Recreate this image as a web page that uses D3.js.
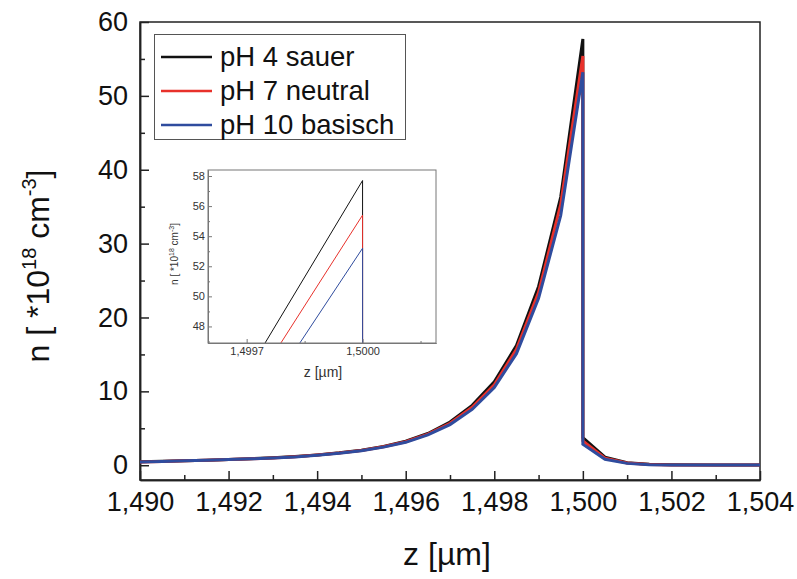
<!DOCTYPE html>
<html lang="de">
<head>
<meta charset="UTF-8">
<title>n(z)</title>
<style>
  body { margin: 0; background: #fff; }
  svg { font-family: "Liberation Sans", Arial, sans-serif; }
  .axis path, .axis line { stroke: #222; }
  .inset path, .inset line { stroke: #777; }
</style>
</head>
<body>
<div id="chart"></div>
<script src="https://cdn.jsdelivr.net/npm/d3@7/dist/d3.min.js"></script>
<script>
// z-Werte (µm), 1,5000 doppelt wegen Sprung
let zValues = [1.4900, 1.4905, 1.4910, 1.4915, 1.4920, 1.4925, 1.4930, 1.4935, 1.4940, 1.4945,
  1.4950, 1.4955, 1.4960, 1.4965, 1.4970, 1.4975, 1.4980, 1.4985, 1.4990, 1.4995,
  1.5000, 1.5000, 1.5005, 1.5010, 1.5015, 1.5020, 1.5030, 1.5040]
let nSauer = [0.46, 0.53, 0.61, 0.69, 0.79, 0.89, 1.00, 1.17, 1.40, 1.68,
  2.03, 2.55, 3.25, 4.30, 5.85, 8.10, 11.3, 16.2, 24.2, 36.3,
  57.7, 3.75, 1.10, 0.35, 0.12, 0.05, 0.02, 0.02]
let nNeutral = [0.45, 0.52, 0.60, 0.68, 0.77, 0.87, 0.98, 1.15, 1.37, 1.65,
  2.00, 2.50, 3.18, 4.20, 5.68, 7.85, 10.9, 15.7, 23.4, 35.3,
  55.4, 3.30, 0.95, 0.30, 0.10, 0.04, 0.02, 0.02]
let nBasisch = [0.44, 0.51, 0.59, 0.67, 0.76, 0.86, 0.97, 1.13, 1.35, 1.62,
  1.96, 2.45, 3.10, 4.10, 5.50, 7.55, 10.5, 15.1, 22.6, 33.8,
  53.2, 2.85, 0.80, 0.25, 0.08, 0.03, 0.02, 0.02]
let seriesNames = ['pH 4 sauer', 'pH 7 neutral', 'pH 10 basisch']
let xTicks = [1.490, 1.492, 1.494, 1.496, 1.498, 1.500, 1.502, 1.504]
let yTicks = [0, 10, 20, 30, 40, 50, 60]
let insetXTicks = [1.4997, 1.5000]
let insetYTicks = [48, 50, 52, 54, 56, 58]

let colorArr = ['#111111', '#e8312b', '#2f4c9e']
let allSeries = [nSauer, nNeutral, nBasisch]

let width = 797
let height = 579
let de = d3.formatLocale({ decimal: ',', thousands: '.', grouping: [3], currency: ['', '€'] })

let svg = d3.select('#chart').append('svg').attr('width', width).attr('height', height)

// Hauptdiagramm
let x = d3.scaleLinear().domain([1.490, 1.504]).range([140, 760])
let y = d3.scaleLinear().domain([-2, 60]).range([480, 22])

// Rahmen
svg.append('rect').attr('x', 140).attr('y', 22).attr('width', 620).attr('height', 458)
  .attr('fill', 'none').attr('stroke', '#222').attr('stroke-width', 1.5)

let xAxis = d3.axisBottom(x).tickValues(xTicks).tickSizeInner(-9).tickSizeOuter(0).tickPadding(12)
  .tickFormat(de.format('.3f'))
let gx = svg.append('g').attr('class', 'axis').attr('transform', 'translate(0,480)').call(xAxis)
let xMinor = d3.axisBottom(x).tickValues([1.491, 1.493, 1.495, 1.497, 1.499, 1.501, 1.503])
  .tickSizeInner(-5).tickSizeOuter(0).tickFormat('')
svg.append('g').attr('class', 'axis').attr('transform', 'translate(0,480)').call(xMinor)

let yAxis = d3.axisLeft(y).tickValues(yTicks).tickSizeInner(-9).tickSizeOuter(0).tickPadding(12)
let gy = svg.append('g').attr('class', 'axis').attr('transform', 'translate(140,0)').call(yAxis)
let yMinor = d3.axisLeft(y).tickValues([5, 15, 25, 35, 45, 55]).tickSizeInner(-5).tickSizeOuter(0).tickFormat('')
svg.append('g').attr('class', 'axis').attr('transform', 'translate(140,0)').call(yMinor)

svg.selectAll('.axis path').attr('stroke-width', 1.5)
svg.selectAll('.axis line').attr('stroke-width', 1.5)
gx.selectAll('text').attr('font-size', 27).attr('fill', '#111').attr('font-family', 'Liberation Sans, Arial')
gy.selectAll('text').attr('font-size', 27).attr('fill', '#111').attr('font-family', 'Liberation Sans, Arial')

// Achsentitel
svg.append('text').attr('x', 447).attr('y', 565).attr('text-anchor', 'middle')
  .attr('font-size', 32).attr('fill', '#111').text('z [µm]')

let yt = svg.append('text').attr('transform', 'translate(49,266) rotate(-90)')
  .attr('text-anchor', 'middle').attr('font-size', 32).attr('fill', '#111')
yt.append('tspan').text('n [ *10')
yt.append('tspan').attr('font-size', 20).attr('dy', -13).text('18')
yt.append('tspan').attr('dy', 13).text(' cm')
yt.append('tspan').attr('font-size', 20).attr('dy', -13).text('-3')
yt.append('tspan').attr('dy', 13).text(']')

// Kurven
let line = d3.line().x((d, i) => x(zValues[i])).y(d => y(d))
allSeries.forEach((s, i) => {
  svg.append('path').datum(s).attr('d', line)
    .attr('fill', 'none').attr('stroke', colorArr[i]).attr('stroke-width', 3)
    .attr('stroke-linejoin', 'miter')
})

// Legende
let leg = svg.append('g')
leg.append('rect').attr('x', 154.5).attr('y', 34.5).attr('width', 251).attr('height', 105)
  .attr('fill', '#fff').attr('stroke', '#555').attr('stroke-width', 1)
seriesNames.forEach((name, i) => {
  let ly = 57 + i * 34
  leg.append('line').attr('x1', 161).attr('x2', 212).attr('y1', ly).attr('y2', ly)
    .attr('stroke', colorArr[i]).attr('stroke-width', 2.5)
  leg.append('text').attr('x', 220).attr('y', ly + 9).attr('font-size', 27.5).attr('fill', '#111').text(name)
})

// Inset
let ix = d3.scaleLinear().domain([1.4996, 1.50019]).range([208, 436])
let iy = d3.scaleLinear().domain([46.9, 58.4]).range([343, 170])

svg.append('clipPath').attr('id', 'insetClip').append('rect')
  .attr('x', 208).attr('y', 170).attr('width', 228).attr('height', 173)

let inset = svg.append('g')
allSeries.forEach((s, i) => {
  let iline = d3.line().x((d, k) => ix(zValues[k])).y(d => iy(d))
  inset.append('path').datum(s).attr('d', iline).attr('clip-path', 'url(#insetClip)')
    .attr('fill', 'none').attr('stroke', colorArr[i]).attr('stroke-width', 1)
})
inset.append('rect').attr('x', 208).attr('y', 170).attr('width', 228).attr('height', 173)
  .attr('fill', 'none').attr('stroke', '#777').attr('stroke-width', 1)

let ixAxis = d3.axisBottom(ix).tickValues(insetXTicks).tickSizeInner(-4).tickSizeOuter(0).tickPadding(4)
  .tickFormat(de.format('.4f'))
let igx = inset.append('g').attr('class', 'inset').attr('transform', 'translate(0,343)').call(ixAxis)
inset.append('g').attr('class', 'inset').attr('transform', 'translate(0,343)')
  .call(d3.axisBottom(ix).tickValues([1.49985, 1.50015]).tickSizeInner(-2).tickSizeOuter(0).tickFormat(''))
let iyAxis = d3.axisLeft(iy).tickValues(insetYTicks).tickSizeInner(-4).tickSizeOuter(0).tickPadding(3)
let igy = inset.append('g').attr('class', 'inset').attr('transform', 'translate(208,0)').call(iyAxis)
inset.append('g').attr('class', 'inset').attr('transform', 'translate(208,0)')
  .call(d3.axisLeft(iy).tickValues([47, 49, 51, 53, 55, 57]).tickSizeInner(-2).tickSizeOuter(0).tickFormat(''))
inset.selectAll('.inset path').attr('stroke', 'none')
igx.selectAll('text').attr('font-size', 11).attr('fill', '#333')
igy.selectAll('text').attr('font-size', 11).attr('fill', '#333')

inset.append('text').attr('x', 323).attr('y', 377).attr('text-anchor', 'middle')
  .attr('font-size', 14).attr('fill', '#333').text('z [µm]')
let iyt = inset.append('text').attr('transform', 'translate(178,254) rotate(-90)')
  .attr('text-anchor', 'middle').attr('font-size', 10).attr('fill', '#333')
iyt.append('tspan').text('n [ *10')
iyt.append('tspan').attr('font-size', 7).attr('dy', -4).text('18')
iyt.append('tspan').attr('dy', 4).text(' cm')
iyt.append('tspan').attr('font-size', 7).attr('dy', -4).text('-3')
iyt.append('tspan').attr('dy', 4).text(']')
</script>
</body>
</html>
